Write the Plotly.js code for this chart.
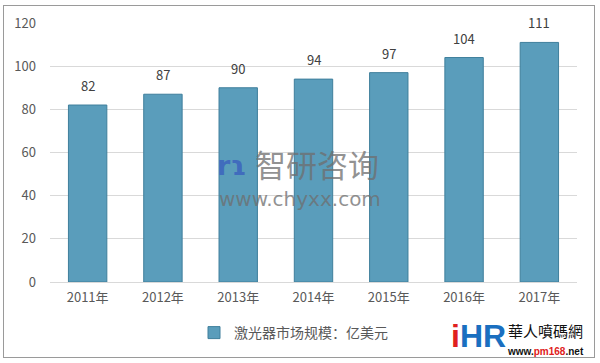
<!DOCTYPE html>
<html>
<head>
<meta charset="utf-8">
<script src="https://cdn.plot.ly/plotly-3.0.1.min.js"></script>
<style>
html,body{margin:0;padding:0;background:#fff;}
#frame{position:absolute;left:3px;top:5px;width:592px;height:353px;border:1px solid #9a9a9a;box-sizing:border-box;pointer-events:none;}
#chart{width:600px;height:363px;}
</style>
</head>
<body>
<div id="chart"></div>
<div id="frame"></div>
<script>
const years = ["2011年","2012年","2013年","2014年","2015年","2016年","2017年"];
const marketSize = [82, 87, 90, 94, 97, 104, 111];
const seriesName = "激光器市场规模：亿美元";
const yTicks = [0, 20, 40, 60, 80, 100, 120];

const font = "Noto Sans CJK SC, Liberation Sans, sans-serif";

const trace = {
  type: "bar",
  x: years,
  y: marketSize,
  name: seriesName,
  marker: {color: "#5a9dbb", line: {color: "#3f7f9c", width: 1}},
  showlegend: true
};

const valueLabels = years.map((yr, i) => ({
  x: yr, y: marketSize[i], xref: "x", yref: "y",
  text: String(marketSize[i]), showarrow: false,
  yanchor: "bottom", yshift: 8,
  font: {family: font, size: 13, color: "#404040"}
}));

const px = v => (v - 50) / 527;
const py = v => (282 - v) / 259;

const layout = {
  width: 600, height: 363,
  margin: {l: 50, r: 23, t: 23, b: 81},
  paper_bgcolor: "rgba(0,0,0,0)",
  plot_bgcolor: "rgba(0,0,0,0)",
  bargap: 0.49,
  font: {family: font, size: 13, color: "#595959"},
  xaxis: {
    type: "category",
    showgrid: false,
    showline: true, linecolor: "#d9d9d9", linewidth: 1,
    ticks: "",
    tickfont: {family: font, size: 13, color: "#595959"},
    ticklabelstandoff: 3
  },
  yaxis: {
    range: [0, 120],
    tickvals: yTicks,
    showgrid: true, gridcolor: "#d9d9d9", gridwidth: 1,
    zeroline: false,
    showline: false,
    ticks: "",
    ticklabelstandoff: 13,
    tickfont: {family: font, size: 13, color: "#595959"}
  },
  showlegend: true,
  legend: {
    orientation: "h",
    x: px(194), xanchor: "left",
    y: py(333), yanchor: "middle",
    font: {family: font, size: 14, color: "#595959"},
    itemwidth: 30
  },
  annotations: valueLabels.concat([
    {xref: "paper", yref: "paper", x: px(231), y: py(165), xanchor: "center", yanchor: "middle",
     text: "<b>rɿ</b>", showarrow: false,
     font: {family: "DejaVu Sans, sans-serif", size: 27, color: "rgba(60,100,190,0.85)"}},
    {xref: "paper", yref: "paper", x: px(317), y: py(163), xanchor: "center", yanchor: "middle",
     text: "智研咨询", showarrow: false,
     font: {family: font, size: 31, color: "rgba(110,110,110,0.75)"}},
    {xref: "paper", yref: "paper", x: px(300), y: py(199), xanchor: "center", yanchor: "middle",
     text: "www.chyxx.com", showarrow: false,
     font: {family: "DejaVu Sans, sans-serif", size: 20, color: "rgba(110,110,110,0.75)"}},
    {xref: "paper", yref: "paper", x: px(478), y: py(336), xanchor: "center", yanchor: "middle",
     text: "<b><span style='color:#e02020'>i</span>HR</b>", showarrow: false,
     font: {family: "Liberation Sans, sans-serif", size: 32, color: "#1a6fc0"}},
    {xref: "paper", yref: "paper", x: px(545), y: py(330), xanchor: "center", yanchor: "middle",
     text: "華人噴碼網", showarrow: false,
     font: {family: "Noto Sans CJK TC, sans-serif", size: 15, color: "#111"}},
    {xref: "paper", yref: "paper", x: px(545), y: py(351), xanchor: "center", yanchor: "middle",
     text: "<b>www.<span style='color:#e02020'>pm168</span>.net</b>", showarrow: false,
     font: {family: "Liberation Sans, sans-serif", size: 10, color: "#111"}}
  ])
};

Plotly.newPlot("chart", [trace], layout, {displayModeBar: false, staticPlot: true});
</script>
</body>
</html>
